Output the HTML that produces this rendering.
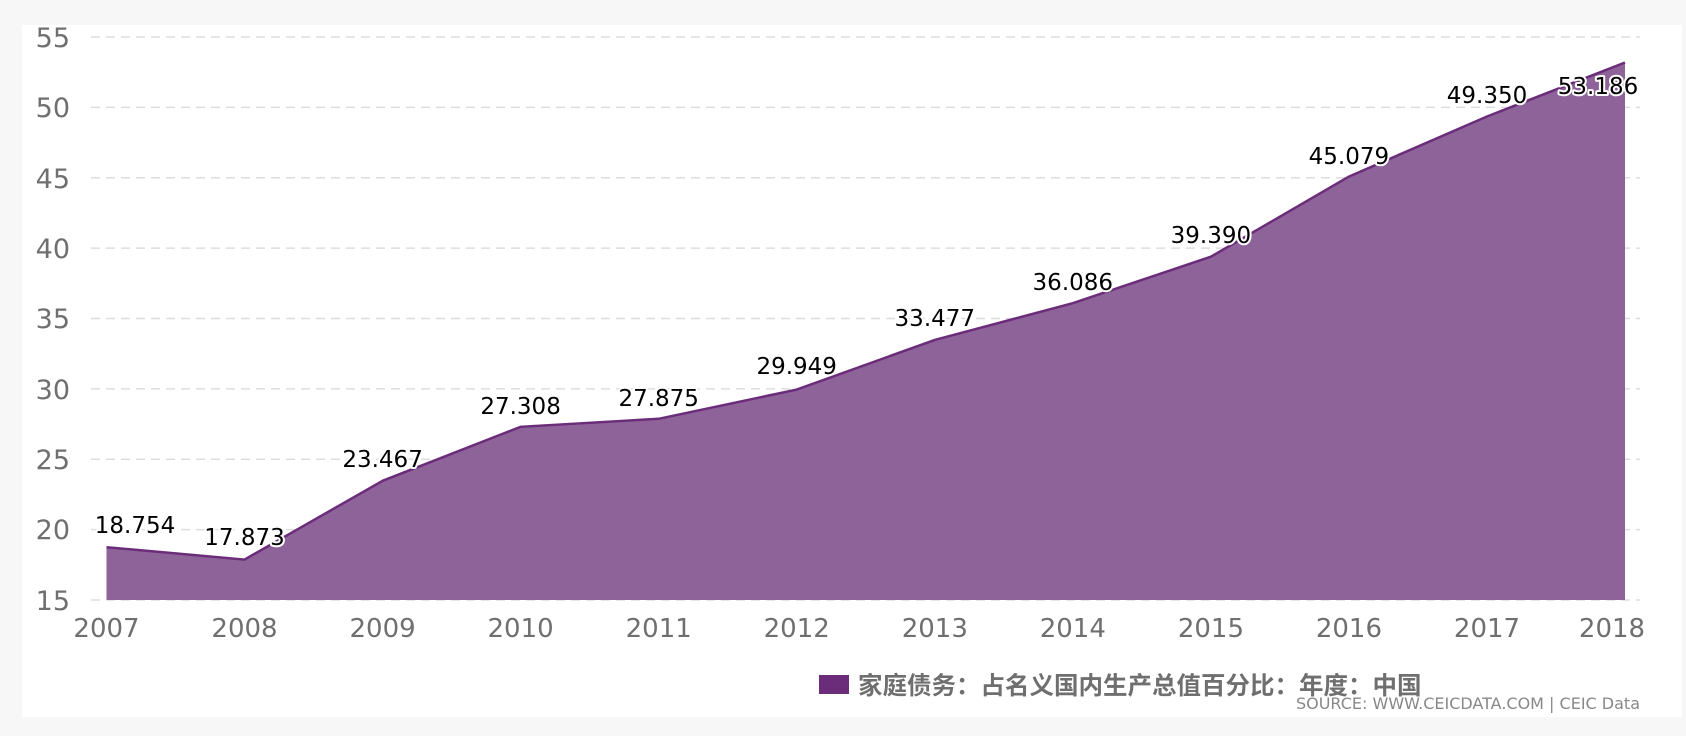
<!DOCTYPE html>
<html><head><meta charset="utf-8"><style>
html,body{margin:0;padding:0;background:#f7f7f7;}
svg{display:block;}
text{font-family:"DejaVu Sans","Liberation Sans","Noto Sans CJK SC",sans-serif;}
</style></head><body>
<svg width="1686" height="736" viewBox="0 0 1686 736" xmlns="http://www.w3.org/2000/svg">
<rect x="22" y="25" width="1660" height="692" fill="#ffffff"/>
<g stroke="#dddddd" stroke-width="1.5" stroke-dasharray="9,6">
<line x1="91" x2="1640" y1="37" y2="37"/>
<line x1="91" x2="1640" y1="107.4" y2="107.4"/>
<line x1="91" x2="1640" y1="177.8" y2="177.8"/>
<line x1="91" x2="1640" y1="248.1" y2="248.1"/>
<line x1="91" x2="1640" y1="318.5" y2="318.5"/>
<line x1="91" x2="1640" y1="388.9" y2="388.9"/>
<line x1="91" x2="1640" y1="459.3" y2="459.3"/>
<line x1="91" x2="1640" y1="529.6" y2="529.6"/>
<line x1="91" x2="1640" y1="600" y2="600"/>
</g>
<g fill="#6f6f6f" font-size="27" text-anchor="end">
<text x="70" y="47">55</text><text x="70" y="117">50</text><text x="70" y="188">45</text>
<text x="70" y="258">40</text><text x="70" y="328">35</text><text x="70" y="399">30</text>
<text x="70" y="469">25</text><text x="70" y="539">20</text><text x="70" y="610">15</text>
</g>
<polygon fill="#8e6399" points="106.5,600 106.5,547.2 244.5,559.6 382.6,480.8 520.6,426.8 658.7,418.8 796.7,389.6 934.8,339.9 1072.8,303.2 1210.9,256.7 1348.9,176.6 1487,116.5 1625,62.5 1625,600"/>
<polyline fill="none" stroke="#6b2d7a" stroke-width="2.5" points="106.5,547.2 244.5,559.6 382.6,480.8 520.6,426.8 658.7,418.8 796.7,389.6 934.8,339.9 1072.8,303.2 1210.9,256.7 1348.9,176.6 1487,116.5 1625,62.5"/>
<g fill="#6f6f6f" font-size="26" text-anchor="middle">
<text x="106.5" y="637">2007</text><text x="244.5" y="637">2008</text><text x="382.6" y="637">2009</text>
<text x="520.6" y="637">2010</text><text x="658.7" y="637">2011</text><text x="796.7" y="637">2012</text>
<text x="934.8" y="637">2013</text><text x="1072.8" y="637">2014</text><text x="1210.9" y="637">2015</text>
<text x="1348.9" y="637">2016</text><text x="1487" y="637">2017</text><text x="1612" y="637">2018</text>
</g>
<g font-size="23" text-anchor="middle" fill="#000" stroke="#fff" stroke-width="4" paint-order="stroke" stroke-linejoin="round">
<text x="135" y="533">18.754</text><text x="244.5" y="545">17.873</text><text x="382.6" y="467">23.467</text>
<text x="520.6" y="414">27.308</text><text x="658.7" y="406">27.875</text><text x="796.7" y="374">29.949</text>
<text x="934.8" y="326">33.477</text><text x="1072.8" y="290">36.086</text><text x="1210.9" y="243">39.390</text>
<text x="1348.9" y="164">45.079</text><text x="1487" y="103">49.350</text><text x="1598" y="94">53.186</text>
</g>
<rect x="819" y="675" width="30" height="19" fill="#6b2d7a"/>
<text x="858" y="694" font-size="24.5" font-weight="bold" fill="#6f6f6f">家庭债务：占名义国内生产总值百分比：年度：中国</text>
<text x="1640" y="709" font-size="16" fill="#888" text-anchor="end">SOURCE: WWW.CEICDATA.COM | CEIC Data</text>
</svg>
</body></html>
